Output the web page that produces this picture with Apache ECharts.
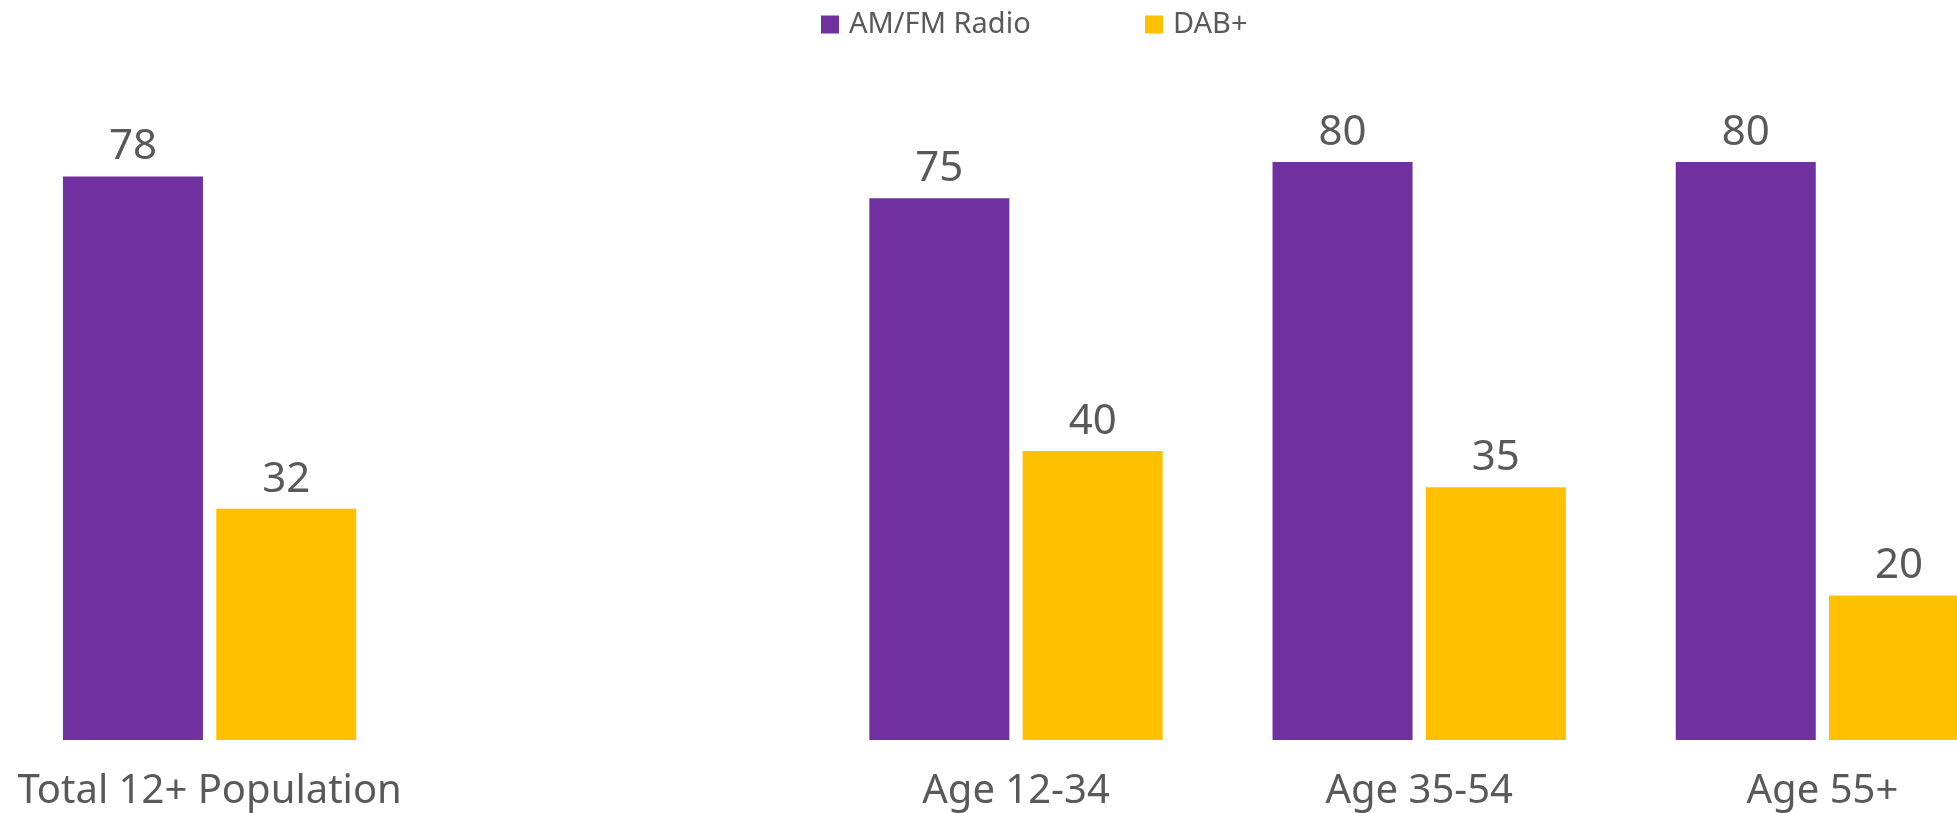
<!DOCTYPE html>
<html>
<head>
<meta charset="utf-8">
<script src="https://cdn.jsdelivr.net/npm/echarts@6/dist/echarts.min.js"></script>
<style>
  html, body { margin: 0; padding: 0; background: #fff; overflow: hidden; }
  #echart { width: 2024px; height: 813px; }
</style>
</head>
<body>
<div id="echart"></div>
<script>
var categories = ['Total 12+ Population', '', 'Age 12-34', 'Age 35-54', 'Age 55+'];
var amfm = [78, null, 75, 80, 80];
var dab = [32, null, 40, 35, 20];

var myChart = echarts.init(document.getElementById('echart'));
var font = '"Noto Sans", sans-serif';
var grey = '#595959';

function legendAt(x, name) {
    return {
        left: x,
        top: 5,
        itemWidth: 18,
        itemHeight: 18,
        icon: 'rect',
        textStyle: {
            fontFamily: font,
            fontSize: 29,
            color: grey,
            padding: [0, 0, 0, 5]
        },
        data: [name]
    };
}

var barLabel = {
    show: true,
    position: 'top',
    distance: 8,
    fontFamily: font,
    fontSize: 42,
    color: grey
};

var option = {
    animation: false,
    legend: [legendAt(816, 'AM/FM Radio'), legendAt(1140, 'DAB+')],
    grid: {
        left: 8,
        right: 0,
        top: 17.5,
        bottom: 73
    },
    xAxis: {
        type: 'category',
        data: categories,
        axisLine: { show: false },
        axisTick: { show: false },
        axisLabel: {
            interval: 0,
            margin: 32,
            fontFamily: font,
            fontSize: 40,
            color: grey
        }
    },
    yAxis: {
        type: 'value',
        min: 0,
        max: 100,
        show: false,
        splitLine: { show: false }
    },
    series: [
        {
            name: 'AM/FM Radio',
            type: 'bar',
            data: amfm,
            barWidth: 140,
            barGap: '9.5%',
            itemStyle: { color: '#7030A0' },
            label: barLabel
        },
        {
            name: 'DAB+',
            type: 'bar',
            data: dab,
            barWidth: 140,
            barGap: '9.5%',
            itemStyle: { color: '#FFC000' },
            label: barLabel
        }
    ]
};
myChart.setOption(option);
</script>
</body>
</html>
